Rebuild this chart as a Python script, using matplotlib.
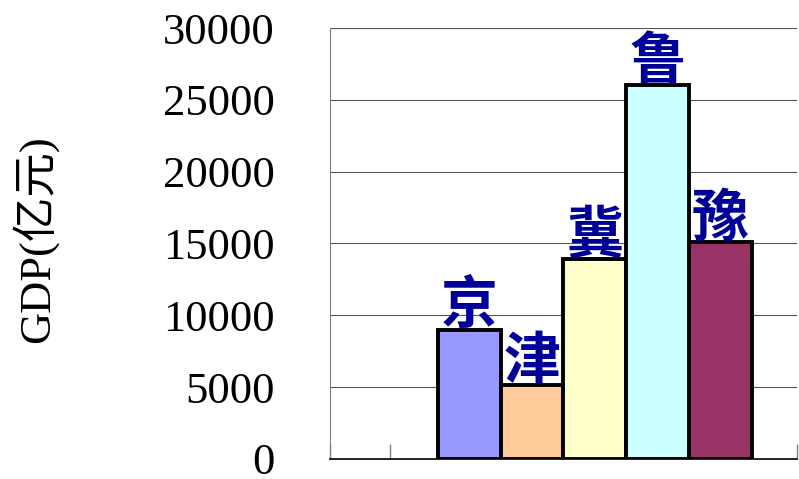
import numpy as np
import matplotlib.pyplot as plt

# province GDP (100 million yuan)
provinces = ['京', '津', '冀', '鲁', '豫']
gdp = [9000, 5150, 13900, 26000, 15100]
colors = ['#9999FF', '#FFCC99', '#FFFFCC', '#CCFFFF', '#993366']
yticks = [0, 5000, 10000, 15000, 20000, 25000, 30000]

fig = plt.figure(figsize=(7.99, 4.79), dpi=100)
ax = fig.add_axes([0.413, 0.0418, 0.5845, 0.8997])

x = np.arange(len(provinces)) + 0.5
ax.bar(x, gdp, width=1.0, color=colors, edgecolor='black', linewidth=2.8, zorder=3)

for xi, v, name in zip(x, gdp, provinces):
    ax.text(xi, v - 400, name, ha='center', va='bottom', fontsize=41,
            color='#000099', fontweight='bold',
            family=['Noto Sans CJK SC', 'DejaVu Sans'], zorder=4)

ax.set_xlim(-1.72, 5.72)
ax.set_ylim(0, 30000)
ax.set_yticks(yticks)
ax.set_yticklabels([str(t) for t in yticks], family='Liberation Serif', fontsize=32)
ax.tick_params(axis='y', length=0, pad=40)
ax.set_xticks([-1.72, -0.76, 5.72])
ax.set_xticklabels([])
ax.tick_params(axis='x', direction='in', length=11, color='#808080', width=1)

ax.grid(axis='y', color='#555555', linewidth=0.8, zorder=0)
for s in ['top', 'right']:
    ax.spines[s].set_visible(False)
ax.spines['left'].set_color('#808080')
ax.spines['bottom'].set_color('black')
ax.spines['bottom'].set_linewidth(1.2)

fig.text(0.044, 0.5, 'GDP(亿元)', rotation=90, ha='center', va='center',
         fontsize=32, family=['Liberation Serif', 'Noto Sans CJK SC'])

fig.savefig('out.png', dpi=100)
